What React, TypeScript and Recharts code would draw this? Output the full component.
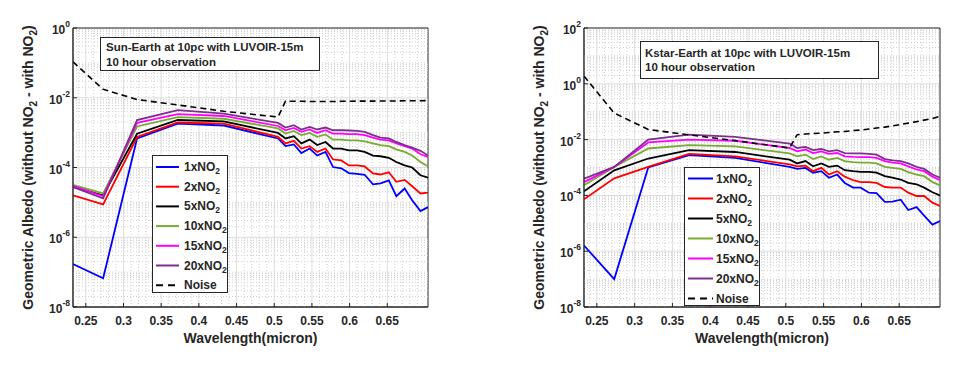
import React from "react";
import {
  LineChart,
  Line,
  XAxis,
  YAxis,
  CartesianGrid,
  ReferenceLine,
  ReferenceArea,
  Legend,
} from "recharts";

// wavelength bins (micron)
const wavelength = [
  0.233, 0.273, 0.318, 0.372, 0.433, 0.505, 0.515, 0.526, 0.536, 0.547, 0.557, 0.568, 0.578,
  0.589, 0.599, 0.61, 0.62, 0.631, 0.641, 0.652, 0.662, 0.673, 0.683, 0.694, 0.704,
];

// Sun-Earth panel
const sun1 = [
  1.7e-7, 6.7e-8, 6.8e-4, 1.8e-3, 1.6e-3, 6.8e-4, 4.1e-4, 4.6e-4, 2.6e-4, 3.5e-4, 2.2e-4, 2.8e-4,
  1.03e-4, 9.5e-5, 6.9e-5, 6.6e-5, 6.2e-5, 3.3e-5, 3.5e-5, 4.3e-5, 1.5e-5, 2.5e-5, 1.15e-5, 5.6e-6, 7.3e-6,
];
const sun2 = [
  1.6e-5, 8.7e-6, 7.5e-4, 1.95e-3, 1.8e-3, 7.6e-4, 4.9e-4, 5.8e-4, 3.5e-4, 4.1e-4, 2.8e-4, 3.5e-4,
  1.7e-4, 1.6e-4, 1.15e-4, 1.15e-4, 1.07e-4, 6.8e-5, 6.3e-5, 7.3e-5, 3.9e-5, 4.4e-5, 2.9e-5, 1.8e-5, 1.9e-5,
];
const sun5 = [
  2.8e-5, 1.6e-5, 9.3e-4, 2.3e-3, 2.1e-3, 9.8e-4, 6.8e-4, 7.9e-4, 4.9e-4, 6.3e-4, 4.4e-4, 5.4e-4,
  3.5e-4, 3.5e-4, 3.1e-4, 3.1e-4, 2.8e-4, 2.2e-4, 2.1e-4, 1.9e-4, 1.44e-4, 1.15e-4, 1.0e-4, 6.0e-5, 5.1e-5,
];
const sun10 = [
  3.2e-5, 1.8e-5, 1.5e-3, 2.8e-3, 2.5e-3, 1.32e-3, 9.4e-4, 1.12e-3, 8.5e-4, 9.8e-4, 7.6e-4, 8.9e-4,
  6.3e-4, 6.3e-4, 6.0e-4, 6.0e-4, 5.6e-4, 4.9e-4, 4.4e-4, 4.1e-4, 3.3e-4, 2.8e-4, 2.2e-4, 1.44e-4, 1.08e-4,
];
const sun15 = [
  3.0e-5, 1.5e-5, 1.9e-3, 3.4e-3, 3.0e-3, 1.55e-3, 1.17e-3, 1.37e-3, 1.05e-3, 1.23e-3, 9.8e-4, 1.17e-3,
  9.4e-4, 9.4e-4, 9.0e-4, 9.0e-4, 8.5e-4, 7.2e-4, 6.3e-4, 6.0e-4, 4.9e-4, 4.1e-4, 3.5e-4, 2.4e-4, 2.0e-4,
];
const sun20 = [
  2.75e-5, 1.3e-5, 2.3e-3, 4.4e-3, 3.5e-3, 1.9e-3, 1.4e-3, 1.63e-3, 1.23e-3, 1.45e-3, 1.23e-3, 1.4e-3,
  1.17e-3, 1.17e-3, 1.15e-3, 1.12e-3, 1.05e-3, 8.5e-4, 7.2e-4, 6.8e-4, 5.4e-4, 4.4e-4, 3.7e-4, 3.0e-4, 2.2e-4,
];
const sunNoise = [
  0.107, 0.0174, 0.0089, 0.0062, 0.0041, 0.0028, 0.008, 0.0079, 0.0079, 0.0078, 0.0078, 0.0078,
  0.0078, 0.0079, 0.0079, 0.008, 0.008, 0.008, 0.0081, 0.0081, 0.0081, 0.0082, 0.0082, 0.0082, 0.0083,
];

// Kstar-Earth panel
const kstar1 = [
  1.6e-6, 1.0e-7, 1.0e-3, 2.8e-3, 2.2e-3, 1.05e-3, 8.9e-4, 9.7e-4, 6.5e-4, 7.4e-4, 4.3e-4, 5.6e-4,
  2.8e-4, 1.9e-4, 1.9e-4, 1.25e-4, 1.2e-4, 5.9e-5, 6.0e-5, 7.0e-5, 3.0e-5, 3.8e-5, 1.9e-5, 9e-6, 1.2e-5,
];
const kstar2 = [
  7.2e-5, 4.1e-4, 1.05e-3, 3.1e-3, 2.5e-3, 1.3e-3, 1.1e-3, 1.17e-3, 7.4e-4, 9.7e-4, 5.6e-4, 7.4e-4,
  4.7e-4, 3.5e-4, 3.0e-4, 3.0e-4, 2.8e-4, 2.0e-4, 1.9e-4, 1.9e-4, 1.25e-4, 9.5e-5, 9.5e-5, 5.5e-5, 4.2e-5,
];
const kstar5 = [
  1.4e-4, 7.9e-4, 2.1e-3, 4.2e-3, 3.6e-3, 1.9e-3, 1.4e-3, 1.7e-3, 1.1e-3, 1.4e-3, 1.05e-3, 1.17e-3,
  8.0e-4, 7.4e-4, 7.0e-4, 7.0e-4, 6.5e-4, 4.9e-4, 4.3e-4, 3.7e-4, 2.8e-4, 2.5e-4, 1.9e-4, 1.3e-4, 1.0e-4,
];
const kstar10 = [
  2.3e-4, 1.05e-3, 4.8e-3, 6.3e-3, 5.7e-3, 3.2e-3, 2.5e-3, 2.9e-3, 2.0e-3, 2.5e-3, 1.9e-3, 2.2e-3,
  1.7e-3, 1.55e-3, 1.5e-3, 1.5e-3, 1.4e-3, 1.05e-3, 9.7e-4, 8.9e-4, 6.8e-4, 5.6e-4, 4.9e-4, 3.0e-4, 2.3e-4,
];
const kstar15 = [
  3.0e-4, 1.05e-3, 7.9e-3, 1.0e-2, 9.1e-3, 5.0e-3, 3.8e-3, 4.4e-3, 3.3e-3, 3.8e-3, 3.1e-3, 3.3e-3,
  2.5e-3, 2.4e-3, 2.35e-3, 2.35e-3, 2.2e-3, 1.7e-3, 1.5e-3, 1.4e-3, 1.1e-3, 8.5e-4, 7.4e-4, 4.7e-4, 3.5e-4,
];
const kstar20 = [
  4.0e-4, 1.05e-3, 1.0e-2, 1.5e-2, 1.25e-2, 7.2e-3, 5.0e-3, 5.5e-3, 4.2e-3, 4.6e-3, 3.8e-3, 4.2e-3,
  3.3e-3, 3.2e-3, 3.2e-3, 3.1e-3, 2.9e-3, 2.0e-3, 1.8e-3, 1.7e-3, 1.4e-3, 1.05e-3, 8.9e-4, 5.6e-4, 4.3e-4,
];
const kstarNoise = [
  1.9, 0.089, 0.023, 0.0148, 0.0092, 0.005, 0.015, 0.0158, 0.0165, 0.017, 0.018, 0.019, 0.0195,
  0.021, 0.022, 0.024, 0.026, 0.028, 0.031, 0.035, 0.039, 0.044, 0.05, 0.057, 0.068,
];

const xTicks = [0.25, 0.3, 0.35, 0.4, 0.45, 0.5, 0.55, 0.6, 0.65];
const sunYTicks = [1e-8, 1e-6, 1e-4, 1e-2, 1];
const kstarYTicks = [1e-8, 1e-6, 1e-4, 1e-2, 1, 100];

const seriesKeys = ["s1", "s2", "s5", "s10", "s15", "s20"];
const seriesNames = ["1x", "2x", "5x", "10x", "15x", "20x"];
const seriesColors = ["#0000ff", "#ff0000", "#000000", "#77ac30", "#ff00ff", "#7e2f8e"];

const FONT = '"Liberation Sans", Arial, Helvetica, sans-serif';
const INK = "#262626";

const buildRows = (cols: number[][], noise: number[]) =>
  wavelength.map((w, i) => {
    const row: any = { w, noise: noise[i] };
    seriesKeys.forEach((k, j) => (row[k] = cols[j][i]));
    return row;
  });

const sunRows = buildRows([sun1, sun2, sun5, sun10, sun15, sun20], sunNoise);
const kstarRows = buildRows([kstar1, kstar2, kstar5, kstar10, kstar15, kstar20], kstarNoise);

// dotted minor grid positions (log decades and 0.01 micron steps)
const minorLog = (lo: number, hi: number) => {
  const out: number[] = [];
  for (let d = lo; d < hi; d++) {
    for (let m = 1; m < 10; m++) {
      if (m === 1 && d % 2 === 0) continue;
      out.push(m * Math.pow(10, d));
    }
  }
  return out;
};
const minorX: number[] = [];
for (let i = 24; i <= 70; i++) if (i % 5 !== 0) minorX.push(i / 100);

const XTick = ({ x, y, payload }: any) => (
  <g>
    <line x1={x} x2={x} y1={y} y2={y - 4} stroke={INK} />
    <text x={x} y={y + 18} textAnchor="middle" fontFamily={FONT} fontWeight="bold" fontSize={12} fill={INK}>
      {payload.value}
    </text>
  </g>
);

const YTick = ({ x, y, payload }: any) => {
  const e = Math.round(Math.log10(payload.value));
  return (
    <g>
      <line x1={x} x2={x + 4} y1={y} y2={y} stroke={INK} />
      <text x={x - 3} y={y + 6} textAnchor="end" fontFamily={FONT} fontWeight="bold" fontSize={12} fill={INK}>
        10
        <tspan dy={-7} fontSize={8.5}>
          {e}
        </tspan>
      </text>
    </g>
  );
};

const Sub = ({ children }: any) => (
  <tspan dy={3} fontSize={8.5}>
    {children}
  </tspan>
);

const LegendBox = ({ width, height, lineEnd, textX, firstY, step }: any) => (
  <svg width={width} height={height} style={{ display: "block", background: "#fff", border: `1px solid ${INK}`, boxSizing: "border-box" }}>
    {seriesNames.map((n, i) => (
      <g key={n}>
        <line x1={3} x2={lineEnd} y1={firstY + i * step} y2={firstY + i * step} stroke={seriesColors[i]} strokeWidth={2} />
        <text x={textX} y={firstY + i * step + 4} fontFamily={FONT} fontWeight="bold" fontSize={12} fill={INK}>
          {n}NO<Sub>2</Sub>
        </text>
      </g>
    ))}
    <line x1={3} x2={lineEnd} y1={firstY + 6 * step} y2={firstY + 6 * step} stroke="#000" strokeWidth={2} strokeDasharray="7 5" />
    <text x={textX} y={firstY + 6 * step + 4} fontFamily={FONT} fontWeight="bold" fontSize={12} fill={INK}>
      Noise
    </text>
  </svg>
);

const Panel = ({ rows, yTicks, yLo, yHi, legend, marginLeft, marginRight }: any) => {
  const yMinor = minorLog(yLo, yHi);
  return (
    <LineChart
      width={legend.chartWidth}
      height={366}
      data={rows}
      margin={{ top: 28, left: marginLeft, right: marginRight, bottom: 29 }}
    >
      <CartesianGrid stroke="#dedede" strokeWidth={1} horizontalValues={yTicks} verticalValues={xTicks} />
      {yMinor.map((v) => (
        <ReferenceLine key={"y" + v} y={v} stroke="#cfcfcf" strokeDasharray="1 2" />
      ))}
      {minorX.map((v) => (
        <ReferenceLine key={"x" + v} x={v} stroke="#cfcfcf" strokeDasharray="1 2" />
      ))}
      <XAxis
        dataKey="w"
        type="number"
        domain={[0.233, 0.704]}
        allowDataOverflow
        ticks={xTicks}
        tick={<XTick />}
        tickSize={0}
        tickMargin={0}
        height={30}
        axisLine={{ stroke: INK }}
        label={{
          content: ({ viewBox }: any) => (
            <text
              x={viewBox.x + viewBox.width / 2}
              y={viewBox.y + 36}
              textAnchor="middle"
              fontFamily={FONT}
              fontWeight="bold"
              fontSize={14}
              fill={INK}
            >
              Wavelength(micron)
            </text>
          ),
        }}
      />
      <YAxis
        type="number"
        scale="log"
        domain={[Math.pow(10, yLo), Math.pow(10, yHi)]}
        allowDataOverflow
        ticks={yTicks}
        tick={<YTick />}
        tickSize={0}
        tickMargin={0}
        width={45}
        axisLine={{ stroke: INK }}
        label={{
          content: ({ viewBox }: any) => {
            const cx = viewBox.x + viewBox.width - 40;
            const cy = viewBox.y + viewBox.height / 2;
            return (
              <text
                x={cx}
                y={cy}
                transform={`rotate(-90, ${cx}, ${cy})`}
                textAnchor="middle"
                fontFamily={FONT}
                fontWeight="bold"
                fontSize={14}
                fill={INK}
              >
                Geometric Albedo (without NO
                <tspan dy={4} fontSize={10}>2</tspan>
                <tspan dy={-4}> - with NO</tspan>
                <tspan dy={4} fontSize={10}>2</tspan>
                <tspan dy={-4}>)</tspan>
              </text>
            );
          },
        }}
      />
      <ReferenceArea
        x1={0.233}
        x2={0.704}
        y1={Math.pow(10, yLo)}
        y2={Math.pow(10, yHi)}
        fill="none"
        stroke={INK}
        strokeWidth={1}
        ifOverflow="visible"
      />
      {seriesKeys.map((k, i) => (
        <Line
          key={k}
          dataKey={k}
          type="linear"
          stroke={seriesColors[i]}
          strokeWidth={1.8}
          dot={false}
          isAnimationActive={false}
        />
      ))}
      <Line
        dataKey="noise"
        type="linear"
        stroke="#000"
        strokeWidth={1.6}
        strokeDasharray="6 4"
        dot={false}
        isAnimationActive={false}
      />
      <Legend
        layout="vertical"
        align="center"
        verticalAlign="middle"
        wrapperStyle={{ left: legend.left, top: legend.top, width: legend.width, height: legend.height }}
        content={() => (
          <LegendBox
            width={legend.width}
            height={legend.height}
            lineEnd={legend.lineEnd}
            textX={legend.textX}
            firstY={legend.firstY}
            step={legend.step}
          />
        )}
      />
    </LineChart>
  );
};

const noteStyle: any = {
  position: "absolute",
  background: "#fff",
  border: `1px solid ${INK}`,
  boxSizing: "border-box",
  fontFamily: FONT,
  fontWeight: "bold",
  fontSize: 11.5,
  color: INK,
  whiteSpace: "nowrap",
};

export default function App() {
  return (
    <div style={{ position: "absolute", left: 0, top: 0, width: 970, height: 366, background: "#fff" }}>
      <div style={{ position: "absolute", left: 0, top: 0 }}>
        <Panel
          rows={sunRows}
          yTicks={sunYTicks}
          yLo={-8}
          yHi={0}
          marginLeft={28}
          marginRight={52}
          legend={{ chartWidth: 480, left: 152, top: 155, width: 76, height: 138, lineEnd: 26, textX: 31, firstY: 11, step: 19.7 }}
        />
      </div>
      <div style={{ position: "absolute", left: 480, top: 0 }}>
        <Panel
          rows={kstarRows}
          yTicks={kstarYTicks}
          yLo={-8}
          yHi={2}
          marginLeft={59}
          marginRight={30}
          legend={{ chartWidth: 490, left: 204, top: 167, width: 76, height: 139, lineEnd: 28, textX: 31, firstY: 10.5, step: 20 }}
        />
      </div>
      <div style={{ ...noteStyle, left: 100, top: 37, width: 220, height: 34, padding: "2px 0 0 5px", lineHeight: "15px" }}>
        Sun-Earth at 10pc with LUVOIR-15m
        <br />
        10 hour observation
      </div>
      <div style={{ ...noteStyle, left: 640, top: 41, width: 239, height: 38, padding: "4px 0 0 4px", lineHeight: "14px" }}>
        Kstar-Earth at 10pc with LUVOIR-15m
        <br />
        10 hour observation
      </div>
    </div>
  );
}
